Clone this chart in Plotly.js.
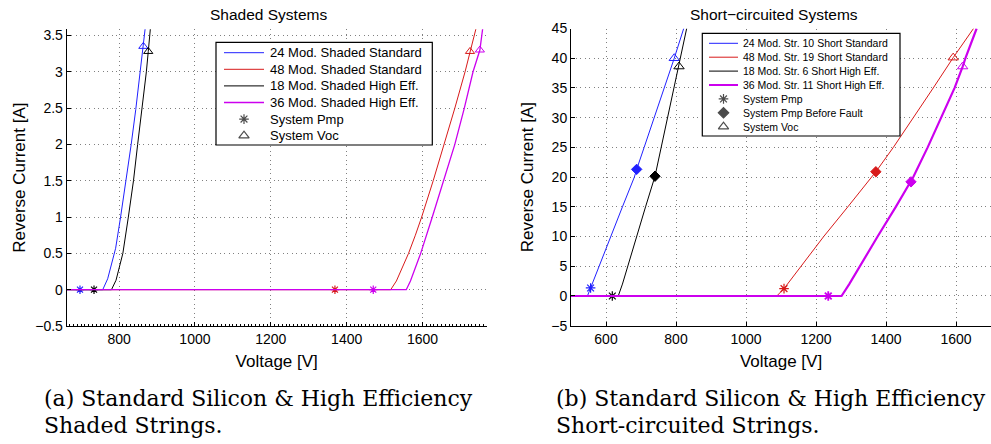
<!DOCTYPE html>
<html><head><meta charset="utf-8">
<script src="https://cdn.plot.ly/plotly-3.0.1.min.js"></script>
<style>html,body{margin:0;padding:0;background:#fff;}#chart{width:991px;height:444px;}</style>
</head><body><div id="chart"></div>
<script>
// ===== Data (a): Shaded systems =====
const shadedNames = ['24 Mod. Shaded Standard', '48 Mod. Shaded Standard', '18 Mod. Shaded High Eff.', '36 Mod. Shaded High Eff.'];
const shaded24V = [662, 757, 770, 780, 791, 804, 818, 832, 844, 855, 864, 870];
const shaded24I = [0, 0, 0.15, 0.34, 0.57, 1.0, 1.47, 2.0, 2.48, 2.95, 3.35, 3.65];
const shaded48V = [662, 1516, 1531, 1547, 1563, 1581, 1597.6, 1628, 1657, 1685, 1712, 1725, 1741];
const shaded48I = [0, 0, 0.12, 0.3, 0.5, 0.75, 1.0, 1.5, 2.0, 2.5, 3.0, 3.28, 3.6];
const shaded18V = [662, 780, 792, 801, 810, 824.5, 838, 849, 861, 872, 877, 883];
const shaded18I = [0, 0, 0.13, 0.31, 0.5, 1.0, 1.5, 2.0, 2.5, 3.0, 3.28, 3.62];
const shaded36V = [662, 1557, 1568, 1581.5, 1595, 1625.6, 1655, 1685, 1710, 1733, 1751, 1759];
const shaded36I = [0, 0, 0.12, 0.3, 0.5, 1.0, 1.5, 2.0, 2.5, 3.0, 3.30, 3.62];
const shadedPmpV = [697, 1369, 734, 1470];
const shadedPmpI = [0, 0, 0, 0];
const shadedVocV = [864, 1725, 877, 1751];
const shadedVocI = [3.35, 3.28, 3.28, 3.30];

// ===== Data (b): Short-circuited systems =====
const shortNames = ['24 Mod. Str. 10 Short Standard', '48 Mod. Str. 19 Short Standard', '18 Mod. Str. 6 Short High Eff.', '36 Mod. Str. 11 Short High Eff.'];
const short24V = [500, 547, 556, 580, 612, 647, 681, 687.6, 709, 738, 766.5, 795, 822];
const short24I = [0, 0, 1.35, 5, 10, 15, 20, 21.3, 25, 30, 35, 40, 45];
const short48V = [500, 1088, 1108.6, 1158, 1222, 1291, 1371, 1421, 1479, 1535, 1592, 1650];
const short48I = [0, 0, 1.24, 5, 10, 15, 20.9, 25, 30, 35, 40.1, 45];
const short18V = [500, 635, 647, 662, 688, 713, 740, 758, 777, 795, 808.6, 814, 830.5];
const short18I = [0, 0, 2, 5, 10, 15, 20.15, 25, 30, 35, 38.6, 40, 45];
const short36V = [500, 1273, 1295, 1325, 1376, 1428, 1471.4, 1478, 1519, 1558, 1596, 1619, 1627, 1659];
const short36I = [0, 0, 2, 5, 10, 15, 19.2, 20, 25, 30, 35, 38.6, 40, 45];
const shortPmpV = [556, 1108.6, 618, 1235];
const shortPmpI = [1.35, 1.24, 0, 0];
const shortPmpBeforeV = [687.6, 1371, 740, 1471.4];
const shortPmpBeforeI = [21.3, 20.9, 20.15, 19.2];
const shortVocV = [795, 1592, 808.6, 1619];
const shortVocI = [40, 40.1, 38.6, 38.6];

// ===== Text =====
const titleA = 'Shaded Systems';
const titleB = 'Short\u2212circuited Systems';
const xTitle = 'Voltage [V]';
const yTitle = 'Reverse Current [A]';
const markerNamesA = ['System Pmp', 'System Voc'];
const markerNamesB = ['System Pmp', 'System Pmp Before Fault', 'System Voc'];
const captionA = ['(a) Standard Silicon &amp; High Efficiency', 'Shaded Strings.'];
const captionB = ['(b) Standard Silicon &amp; High Efficiency', 'Short-circuited Strings.'];

// ===== Styles =====
const COLORS = ['#2020ff', '#d81a1a', '#000000', '#cc00ee'];
const FONT = 'Liberation Sans, Arial, Helvetica, sans-serif';
const SERIF = 'DejaVu Serif, serif';
const W = 991, H = 444;

const traces = [];
function addSeries(V, I, color, width, xa, ya) {
  traces.push({type:'scatter', mode:'lines', x:V, y:I, xaxis:xa, yaxis:ya,
    line:{color:color, width:width}, hoverinfo:'skip', showlegend:false});
}
function addMarkers(V, I, idx, symbol, size, lw, xa, ya) {
  traces.push({type:'scatter', mode:'markers', x:[V[idx]], y:[I[idx]], xaxis:xa, yaxis:ya,
    marker:{symbol:symbol, size:size, color:COLORS[idx], line:{color:COLORS[idx], width:lw}},
    hoverinfo:'skip', showlegend:false, cliponaxis:false});
}

// (a)
const aV = [shaded24V, shaded48V, shaded18V, shaded36V];
const aI = [shaded24I, shaded48I, shaded18I, shaded36I];
for (let k = 0; k < 4; k++) {
  addSeries(aV[k], aI[k], COLORS[k], k === 3 ? 1.3 : 1, 'x', 'y');
  addMarkers(shadedPmpV, shadedPmpI, k, 'asterisk-open', 7, 1.2, 'x', 'y');
  addMarkers(shadedVocV, shadedVocI, k, 'triangle-up-open', 8, 1, 'x', 'y');
}
// (b)
const bV = [short24V, short48V, short18V, short36V];
const bI = [short24I, short48I, short18I, short36I];
for (let k = 0; k < 4; k++) {
  addSeries(bV[k], bI[k], COLORS[k], k === 3 ? 2.2 : 1, 'x2', 'y2');
  addMarkers(shortPmpV, shortPmpI, k, 'asterisk-open', 8, k === 3 ? 1.8 : 1.2, 'x2', 'y2');
  addMarkers(shortPmpBeforeV, shortPmpBeforeI, k, 'diamond', 8, 1, 'x2', 'y2');
  addMarkers(shortVocV, shortVocI, k, 'triangle-up-open', 9, 1, 'x2', 'y2');
}

// ===== Legends (pixel overlay axes x3/y3) =====
const shapes = [];
const annotations = [];
function legend(box, rows0, dy, lineX0, lineX1, textX, names, mNames, mSymbols, mSizes, fontSize, lineWidths) {
  shapes.push({type:'rect', xref:'x3', yref:'y3', x0:box[0], x1:box[1], y0:box[2], y1:box[3],
    line:{color:'#000', width:1.2}, fillcolor:'#fff', layer:'below'});
  const mx = [], my = [];
  names.forEach((n, i) => {
    const y = rows0 + i * dy;
    shapes.push({type:'line', xref:'x3', yref:'y3', x0:lineX0, x1:lineX1, y0:y, y1:y,
      line:{color:COLORS[i], width:lineWidths[i]}, layer:'above'});
    annotations.push({xref:'x3', yref:'y3', x:textX, y:y, text:n, showarrow:false,
      xanchor:'left', yanchor:'middle', font:{family:FONT, size:fontSize, color:'#000'}});
  });
  mNames.forEach((n, j) => {
    const y = rows0 + (names.length + j) * dy;
    mx.push((lineX0 + lineX1) / 2); my.push(y);
    annotations.push({xref:'x3', yref:'y3', x:textX, y:y, text:n, showarrow:false,
      xanchor:'left', yanchor:'middle', font:{family:FONT, size:fontSize, color:'#000'}});
  });
  traces.push({type:'scatter', mode:'markers', x:mx, y:my, xaxis:'x3', yaxis:'y3',
    marker:{symbol:mSymbols, size:mSizes, color:'#000', line:{color:'#000', width:1.2}},
    hoverinfo:'skip', showlegend:false, cliponaxis:false});
}
legend([216, 432.3, 42.3, 145], 52.7, 16.6, 224, 264, 268, shadedNames, markerNamesA,
  ['asterisk-open', 'triangle-up-open'], [8, 9], 13, [1, 1, 1, 1.3]);
legend([702.3, 900, 33.3, 136], 43.3, 13.9, 709, 738, 740.5, shortNames, markerNamesB,
  ['asterisk-open', 'diamond', 'triangle-up-open'], [8, 8, 9], 10.5, [1, 1, 1, 2]);

// titles
annotations.push({xref:'x3', yref:'y3', x:268.7, y:14, text:titleA, showarrow:false, xanchor:'center', yanchor:'middle', font:{family:FONT, size:15.5, color:'#000'}});
annotations.push({xref:'x3', yref:'y3', x:773.7, y:14, text:titleB, showarrow:false, xanchor:'center', yanchor:'middle', font:{family:FONT, size:15.5, color:'#000'}});
// captions
annotations.push({xref:'x3', yref:'y3', x:42, y:398, text:captionA[0], showarrow:false, xanchor:'left', yanchor:'middle', font:{family:SERIF, size:22, color:'#000'}});
annotations.push({xref:'x3', yref:'y3', x:42, y:425, text:captionA[1], showarrow:false, xanchor:'left', yanchor:'middle', font:{family:SERIF, size:22, color:'#000'}});
annotations.push({xref:'x3', yref:'y3', x:554, y:398, text:captionB[0], showarrow:false, xanchor:'left', yanchor:'middle', font:{family:SERIF, size:22, color:'#000'}});
annotations.push({xref:'x3', yref:'y3', x:554, y:425, text:captionB[1], showarrow:false, xanchor:'left', yanchor:'middle', font:{family:SERIF, size:22, color:'#000'}});

function axisCommon(extra) {
  return Object.assign({showline:true, linecolor:'#000', linewidth:1, ticks:'inside', ticklen:4, tickcolor:'#000',
    showgrid:true, gridcolor:'#808080', gridwidth:1, griddash:'1px,3.5px', zeroline:false, mirror:false,
    tickfont:{family:FONT, size:14, color:'#000'}, fixedrange:true}, extra);
}
const layout = {
  width:W, height:H, margin:{l:0, r:0, t:0, b:0}, paper_bgcolor:'#fff', plot_bgcolor:'rgba(0,0,0,0)',
  showlegend:false, font:{family:FONT, size:14, color:'#000'},
  xaxis: axisCommon({domain:[66.7/W, 486.7/W], range:[662, 1769], tick0:0, dtick:200, anchor:'y',
    minor:{ticks:'inside', ticklen:2, dtick:10, tickcolor:'#000', showgrid:false},
    title:{text:xTitle, font:{family:FONT, size:17, color:'#000'}, standoff:9}}),
  yaxis: axisCommon({domain:[(H-326)/H, (H-29.3)/H], range:[-0.5, 3.585], tick0:0, dtick:0.5, anchor:'x',
    title:{text:yTitle, font:{family:FONT, size:17, color:'#000'}, standoff:5}}),
  xaxis2: axisCommon({domain:[571/W, 1], range:[500, 1700], tick0:0, dtick:200, anchor:'y2',
    title:{text:xTitle, font:{family:FONT, size:17, color:'#000'}, standoff:9}}),
  yaxis2: axisCommon({domain:[(H-325.7)/H, (H-28.5)/H], range:[-5, 45], tick0:0, dtick:5, anchor:'x2',
    title:{text:yTitle, font:{family:FONT, size:17, color:'#000'}, standoff:13}}),
  xaxis3: {domain:[0, 1], range:[0, W], visible:false, fixedrange:true, anchor:'y3'},
  yaxis3: {domain:[0, 1], range:[H, 0], visible:false, fixedrange:true, anchor:'x3'},
  shapes: shapes, annotations: annotations
};
Plotly.newPlot('chart', traces, layout, {staticPlot:true, displayModeBar:false});
</script></body></html>
